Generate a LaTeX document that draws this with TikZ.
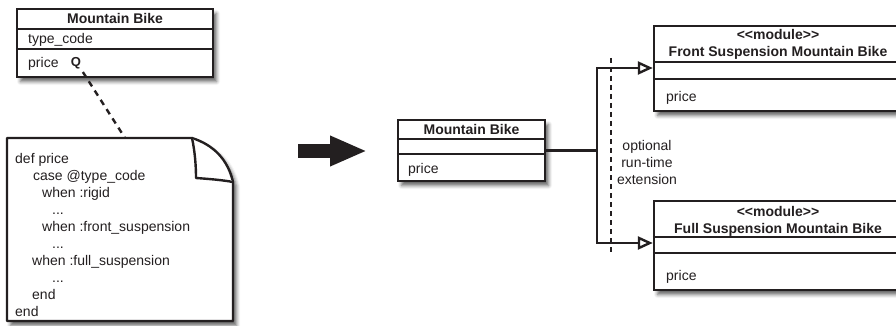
\documentclass[tikz,border=0pt]{standalone}
\usepackage{fontspec}
\setmainfont{Liberation Sans}[Ligatures=TeXOff]
\usetikzlibrary{arrows.meta,shadows.blur}
\definecolor{ink}{HTML}{231F20}
\newcommand\codedots{...}

\begin{document}
\begin{tikzpicture}[x=1pt,y=-1pt,
  every node/.style={font=\fontsize{14}{17}\selectfont, inner sep=0pt, text=ink},
  shade/.style={blur shadow={shadow xshift=3.5pt, shadow yshift=-4.5pt,
      shadow blur radius=3.5pt, shadow opacity=60}},
  classbox/.style={draw=ink, line width=2.4pt, fill=white, shade},
  divider/.style={draw=ink, line width=2.4pt},
  title/.style={font=\fontsize{14}{17}\bfseries\selectfont, anchor=base},
  member/.style={anchor=base west},
  notelink/.style={draw=ink, line width=2.4pt, dash pattern=on 6pt off 5pt},
  boundary/.style={draw=ink, line width=2.4pt, dash pattern=on 5pt off 4pt},
  realize/.style={draw=ink, line width=2.4pt, line join=miter,
      {Triangle[open, length=15pt, width=13pt, line width=2.4pt, fill=white]}-{Triangle[open, length=15pt, width=13pt, line width=2.4pt, fill=white]}},
  bigarrow/.style={draw=ink, line width=14pt, -{Triangle[length=37pt, width=28pt]}}
]
\useasboundingbox (0,0) rectangle (896,326);

% ---- original class with the type code ----
\node[classbox, minimum width=196pt, minimum height=68pt] (mb) at (115,43) {};
\draw[divider] (mb.west |- 0,29) -- (mb.east |- 0,29);
\draw[divider] (mb.west |- 0,49) -- (mb.east |- 0,49);
\node[title] (mbname) at (115,24) {Mountain Bike};
\node[member] (mbtype) at (28,44) {type\_code};
\node[member] (mbprice) at (28,68) {price};
\node[font=\fontsize{13}{13}\bfseries\selectfont] (q) at (76,63.5) {Q};

% ---- note with the conditional code ----
\coordinate (notetop) at (125,138);
\draw[ink, line width=2.4pt, fill=white, line join=round, shade]
  (7,138) -- (192,138) .. controls (214,145) and (228,160) .. (233,182)
  -- (233,321) -- (7,321) -- cycle;
\draw[ink, line width=2.4pt, fill=white, line join=round]
  (192,138) .. controls (195,152) and (196,166) .. (196,178)
  .. controls (210,179) and (222,180) .. (233,182);
\draw[notelink, shorten <=3pt] (q.south east) -- (notetop);
\foreach \i/\ind/\txt in {1/15/def price, 2/33/case @type\_code, 3/42/when :rigid,
    4/52/\codedots, 5/42/when :front\_suspension, 6/52/\codedots, 7/32/when :full\_suspension,
    8/52/\codedots, 9/32/end, 10/15/end}
  \node[member] (code\i) at (\ind,146+17*\i) {\txt};

% ---- refactoring arrow ----
\coordinate (ba) at (298,151);
\coordinate (bb) at (367,151);
\draw[bigarrow] (ba) -- (bb);

% ---- class after extracting the modules ----
\node[classbox, minimum width=147pt, minimum height=61pt] (mid) at (471.5,150.5) {};
\draw[divider] (mid.west |- 0,139) -- (mid.east |- 0,139);
\draw[divider] (mid.west |- 0,154) -- (mid.east |- 0,154);
\node[title] (midname) at (471.5,134) {Mountain Bike};
\node[member] (midprice) at (408,173) {price};

% ---- modules ----
\node[classbox, minimum width=248pt, minimum height=85pt] (front) at (778,68.5) {};
\draw[divider] (front.west |- 0,62) -- (front.east |- 0,62);
\draw[divider] (front.west |- 0,79) -- (front.east |- 0,79);
\node[title] (frontst) at (778,40) {<<module>>};
\node[title] (frontname) at (778,57) {Front Suspension Mountain Bike};
\node[member] (frontprice) at (666,102) {price};

\node[classbox, minimum width=248pt, minimum height=89pt] (full) at (778,245.5) {};
\draw[divider] (full.west |- 0,237) -- (full.east |- 0,237);
\draw[divider] (full.west |- 0,253) -- (full.east |- 0,253);
\node[title] (fullst) at (778,216) {<<module>>};
\node[title] (fullname) at (778,233) {Full Suspension Mountain Bike};
\node[member] (fullprice) at (666,280) {price};

% ---- connectors ----
\coordinate (jt) at (597,68);
\coordinate (jb) at (597,243);
\draw[divider] (mid.east) -- (mid.east -| jt);
\draw[realize] (front.west |- jt) -- (jt) -- (jb) -- (full.west |- jb);
\coordinate (dtop) at (611,58);
\coordinate (dbot) at (611,252);
\draw[boundary] (dtop) -- (dbot);
\node[align=center, anchor=base] (ext) at (647,184) {optional\\run-time\\extension};
\end{tikzpicture}
\end{document}
